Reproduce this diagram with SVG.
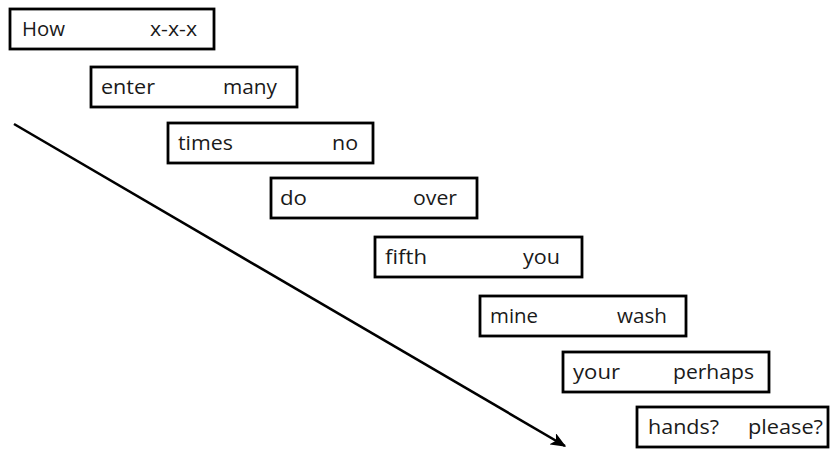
<svg xmlns="http://www.w3.org/2000/svg" width="831" height="450" viewBox="0 0 831 450">
<style>
.box{fill:#fff;stroke:#000;stroke-width:2.8}
.t{font-family:"Open Sans","Liberation Sans",sans-serif;font-size:20px;fill:#1a1a1a}
.arr{stroke:#000;stroke-width:2.6;fill:none}
</style>
<defs>
<marker id="ah" viewBox="0 0 12 10" refX="11" refY="5" markerWidth="6" markerHeight="5" orient="auto" markerUnits="strokeWidth">
<path d="M0,0 L12,5 L0,10 L3,5 Z" fill="#000"/>
</marker>
</defs>
<rect width="831" height="450" fill="#fff"/>
<g id="connectors">
<line class="arr" x1="14" y1="124" x2="565" y2="446" marker-end="url(#ah)"/>
</g>
<g id="n1"><rect class="box" x="10" y="9" width="204" height="40"/>
<text class="t" x="22" y="36" textLength="43" lengthAdjust="spacingAndGlyphs">How</text>
<text class="t" x="150" y="36" textLength="47" lengthAdjust="spacingAndGlyphs">x-x-x</text></g>
<g id="n2"><rect class="box" x="91" y="67" width="206" height="40"/>
<text class="t" x="101" y="94" textLength="54" lengthAdjust="spacingAndGlyphs">enter</text>
<text class="t" x="223" y="94" textLength="54" lengthAdjust="spacingAndGlyphs">many</text></g>
<g id="n3"><rect class="box" x="168" y="123" width="205" height="40"/>
<text class="t" x="178" y="150" textLength="55" lengthAdjust="spacingAndGlyphs">times</text>
<text class="t" x="332" y="150" textLength="26" lengthAdjust="spacingAndGlyphs">no</text></g>
<g id="n4"><rect class="box" x="271" y="178" width="206" height="40"/>
<text class="t" x="280" y="205" textLength="27" lengthAdjust="spacingAndGlyphs">do</text>
<text class="t" x="413" y="205" textLength="44" lengthAdjust="spacingAndGlyphs">over</text></g>
<g id="n5"><rect class="box" x="375" y="237" width="207" height="40"/>
<text class="t" x="385" y="264" textLength="42" lengthAdjust="spacingAndGlyphs">fifth</text>
<text class="t" x="523" y="264" textLength="37" lengthAdjust="spacingAndGlyphs">you</text></g>
<g id="n6"><rect class="box" x="480" y="296" width="206" height="40"/>
<text class="t" x="490" y="323" textLength="48" lengthAdjust="spacingAndGlyphs">mine</text>
<text class="t" x="617" y="323" textLength="50" lengthAdjust="spacingAndGlyphs">wash</text></g>
<g id="n7"><rect class="box" x="563" y="352" width="206" height="40"/>
<text class="t" x="573" y="379" textLength="47" lengthAdjust="spacingAndGlyphs">your</text>
<text class="t" x="673" y="379" textLength="81" lengthAdjust="spacingAndGlyphs">perhaps</text></g>
<g id="n8"><rect class="box" x="637" y="407" width="191" height="40"/>
<text class="t" x="648" y="434" textLength="71" lengthAdjust="spacingAndGlyphs">hands?</text>
<text class="t" x="748" y="434" textLength="75" lengthAdjust="spacingAndGlyphs">please?</text></g>
</svg>
